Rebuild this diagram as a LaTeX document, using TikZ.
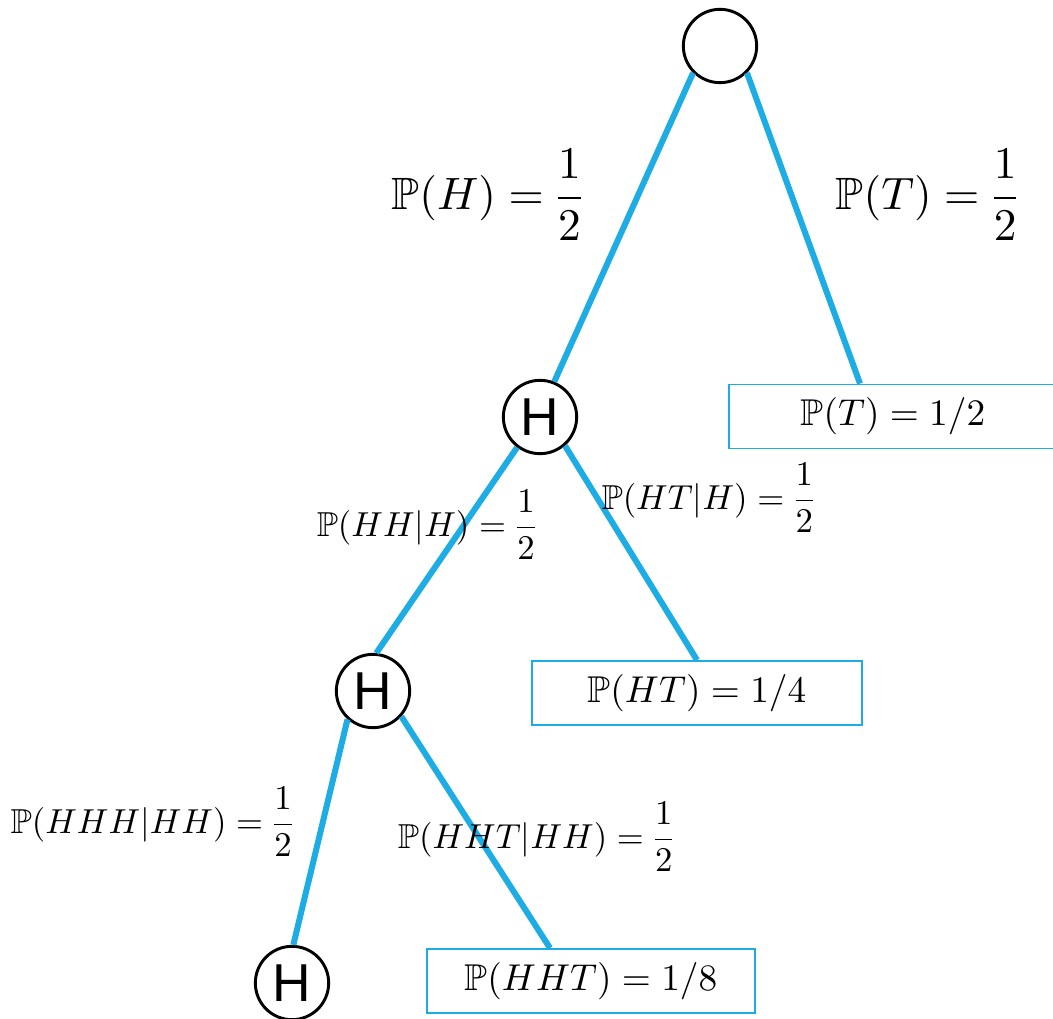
\documentclass[tikz,border=0pt]{standalone}
\usepackage{amssymb}
\DeclareFontFamily{U}{msb}{}
\DeclareFontShape{U}{msb}{m}{n}{<-6> msbm5 <6-8> msbm7 <8-> msbm10}{}
\DeclareFontFamily{OT1}{cmr}{\hyphenchar\font45 }
\DeclareFontShape{OT1}{cmr}{m}{n}{<-6> cmr5 <6-8> cmr7 <8-> cmr10}{}
\DeclareFontFamily{OML}{cmm}{\skewchar\font127 }
\DeclareFontShape{OML}{cmm}{m}{it}{<-6> cmmi5 <6-8> cmmi7 <8-> cmmi10}{}
\DeclareFontFamily{OMS}{cmsy}{\skewchar\font48 }
\DeclareFontShape{OMS}{cmsy}{m}{n}{<-6> cmsy5 <6-8> cmsy7 <8-> cmsy10}{}
\usepackage{fontspec}
\newfontfamily\hfont{Liberation Sans}
\definecolor{edgeblue}{RGB}{29,172,227}
\begin{document}
\begin{tikzpicture}[x=0.75pt,y=-0.75pt,
  state/.style={circle,draw=black,fill=white,line width=2.2pt,minimum size=55pt,inner sep=0pt,font=\hfont\fontsize{40}{40}\selectfont},
  probbox/.style={draw=edgeblue,line width=1.4pt,minimum height=48pt,inner sep=0pt,font=\fontsize{28}{32}\selectfont},
  branch/.style={draw=edgeblue,line width=4.5pt},
  biglabel/.style={font=\fontsize{34}{40}\selectfont,inner sep=0pt},
  smalllabel/.style={font=\fontsize{26}{30}\selectfont,inner sep=0pt}]
\useasboundingbox (0,0) rectangle (1053,1019);
\clip (0,0) rectangle (1053,1019);
% states
\node[state] (root) at (720,46) {};
\node[state] (h1) at (540,417) {H};
\node[state] (h2) at (373,691) {H};
\node[state] (h3) at (292,983) {H};
% result boxes
\node[probbox,minimum width=246pt] (bt) at (893,416.5) {$\mathbb{P}(T)=1/2$};
\node[probbox,minimum width=247.5pt] (bht) at (697,693) {$\mathbb{P}(HT)=1/4$};
\node[probbox,minimum width=246pt] (bhht) at (591,981) {$\mathbb{P}(HHT)=1/8$};
% branches
\draw[branch] (root.225) -- (h1.68);
\draw[branch] (root.-45) -- ([xshift=-24.75pt]bt.north);
\draw[branch] (h1.233) -- (h2.85);
\draw[branch] (h1.-49) -- (bht.north);
\draw[branch] (h2.228) -- (h3.88);
\draw[branch] (h2.-42) -- ([xshift=-30.75pt]bhht.north);
% labels
\node[biglabel] (lh) at (487,195) {$\displaystyle\mathbb{P}(H)=\frac{1}{2}$};
\node[biglabel] (lt) at (927,195) {$\displaystyle\mathbb{P}(T)=\frac{1}{2}$};
\node[smalllabel] (lhh) at (426.5,525) {$\displaystyle\mathbb{P}(HH|H)=\frac{1}{2}$};
\node[smalllabel] (lht) at (708,498) {$\displaystyle\mathbb{P}(HT|H)=\frac{1}{2}$};
\node[smalllabel] (lhhh) at (152,822) {$\displaystyle\mathbb{P}(HHH|HH)=\frac{1}{2}$};
\node[smalllabel] (lhht) at (536,837) {$\displaystyle\mathbb{P}(HHT|HH)=\frac{1}{2}$};
\end{tikzpicture}
\end{document}
